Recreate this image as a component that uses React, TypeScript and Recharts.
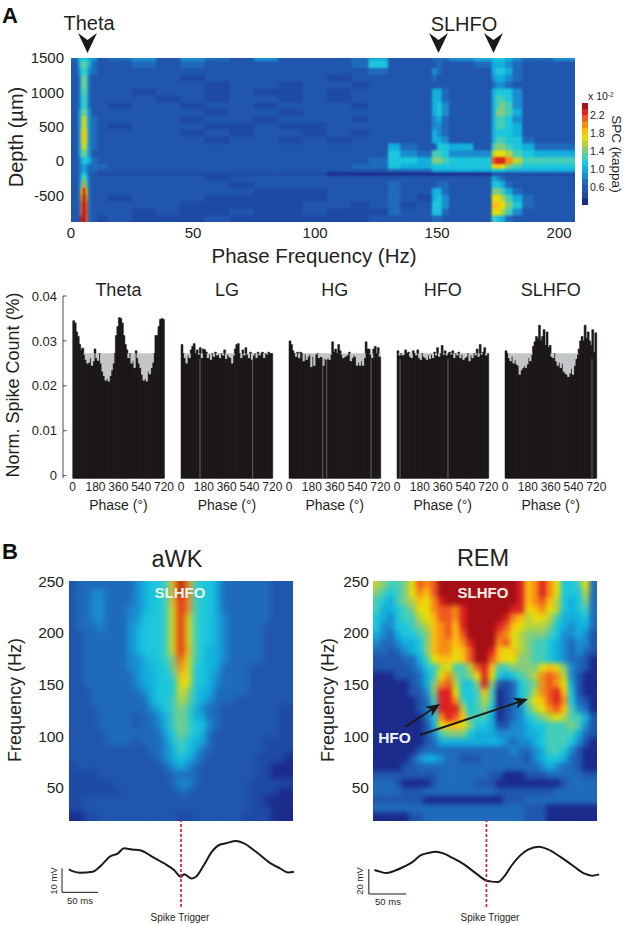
import {
  Bar,
  BarChart,
  Line,
  LineChart,
  ReferenceLine,
  Scatter,
  ScatterChart,
  XAxis,
  YAxis,
} from "recharts";

const FONT = '"Liberation Sans", Arial, sans-serif';
const NARROW = '"Liberation Sans Narrow", "Liberation Sans", Arial, sans-serif';
const INK = "#231f20";

// colour levels of the heat maps, index = hex digit in the rows below
const jet = [
  "#1b2b8c", "#1e4aa5", "#2056ad", "#1f6abb",
  "#1a8ccf", "#12afdc", "#1cc6dc", "#46cdb8",
  "#84cc7c", "#b6d33e", "#e6de0a", "#fbbf10",
  "#f68e14", "#ee5a20", "#dd2022", "#a50f15",
];

// Panel A: phase frequency (Hz) bin edges and depth (um) bin edges
const spcFreqEdges = [
  0, 3, 4, 5, 6, 7, 8.5, 11, 15, 25, 35, 45, 55, 65, 75, 85, 95, 105, 115, 122,
  130, 135, 142, 148, 150, 152, 155, 165, 172.5, 174, 176, 178, 181, 185, 190, 198, 206.5,
];
const spcDepthEdges = [
  1500, 1450, 1350, 1250, 1150, 1050, 950, 850, 750, 650, 550, 450, 350, 250, 150, 50,
  -50, -120, -170, -220, -300, -400, -500, -600, -700, -800, -890,
];
const spcRows = [
  "356665423424324222352223334566654334",
  "257875322323222222362222322355543222",
  "246764322222222222232224322256653222",
  "237873222221222221222223222245543222",
  "237873222222122122122222222234432222",
  "237773222122121121222225532256664222",
  "236763222212122121222225532257764222",
  "236763221221221222122225642257874222",
  "247874222222122122222225642258875222",
  "248a84322221221222122224532257764222",
  "248a84321222112112222224432257765222",
  "249b94322221212212122225432256665222",
  "249b94322222122121222225542257766322",
  "248a84322222222222225322665278876533",
  "24787422222222222222643776449aa97655",
  "2356653222222222222366588766deec9777",
  "2345433322222222223365566666aba87666",
  "234543322222222222223335555566655555",
  "235652211111111110000000000011111111",
  "236863222222122222222222222254322222",
  "237c73222222212222223222332266532222",
  "23bfb3222222221112223225532288753222",
  "23cfc322122211111222 32156422aa975322".replace(" ", ""),
  "23dfd322222111112212 31266422bba86322".replace(" ", ""),
  "23dfd322212112112111 32266322aa974222".replace(" ", ""),
  "22efd3212111211111122223322276532222",
];
const spcTicksX = [0, 50, 100, 150, 200];
const spcTicksY = [-500, 0, 500, 1000, 1500];

const scaleEdges = [2.47, 2.33, 2.19, 2.05, 1.9, 1.76, 1.62, 1.48, 1.34, 1.19, 1.05, 0.91, 0.77, 0.63, 0.48, 0.34, 0.2];
const scaleRows = "fedcba9876543210".split("");
const scaleTicks = [0.6, 1.0, 1.4, 1.8, 2.2];

// Panel A histograms: 12 degree bins over 720 degrees, counts in 1e-4 %
const thetaHist = [
  345, 340, 320, 310, 292, 280, 284, 270, 258, 250, 252, 262, 245, 255, 282, 262, 256, 272, 250, 232,
  222, 212, 216, 210, 222, 235, 250, 272, 312, 332, 352, 350, 340, 312, 292, 280, 262, 272, 250, 256,
  240, 278, 262, 250, 240, 225, 212, 216, 210, 232, 226, 240, 252, 272, 312, 312, 332, 348, 350, 348,
];
const lgHist = [
  292, 272, 262, 250, 268, 262, 280, 288, 294, 272, 280, 270, 285, 262, 282, 280, 275, 262, 270, 258,
  272, 265, 275, 268, 270, 262, 272, 268, 280, 260, 270, 265, 262, 250, 268, 282, 292, 294, 272, 262,
  280, 268, 285, 270, 262, 275, 258, 268, 272, 262, 275, 268, 272, 275, 262, 272, 270, 275, 272, 272,
];
const hgHist = [
  300, 292, 278, 272, 265, 275, 262, 275, 272, 255, 270, 258, 265, 270, 242, 265, 245, 270, 272, 262,
  265, 264, 245, 260, 258, 262, 258, 270, 298, 275, 282, 272, 292, 278, 270, 262, 265, 266, 270, 275,
  255, 262, 268, 265, 245, 252, 245, 255, 245, 262, 298, 282, 282, 270, 262, 282, 288, 272, 285, 265,
];
const hfoHist = [
  278, 268, 272, 268, 270, 280, 272, 275, 265, 262, 278, 272, 268, 280, 262, 258, 272, 265, 262, 258,
  268, 260, 270, 262, 275, 268, 285, 265, 272, 290, 270, 278, 268, 272, 275, 270, 278, 262, 272, 268,
  275, 262, 270, 258, 262, 265, 272, 255, 268, 262, 272, 268, 282, 265, 292, 270, 275, 285, 268, 272,
];
const slhfoHist = [
  278, 272, 262, 255, 266, 250, 258, 248, 245, 225, 235, 240, 245, 240, 248, 262, 255, 270, 288, 298,
  310, 305, 335, 300, 310, 325, 290, 320, 285, 290, 265, 262, 272, 255, 245, 252, 240, 250, 232, 228,
  225, 220, 228, 238, 225, 245, 260, 270, 282, 300, 310, 300, 335, 305, 320, 300, 290, 325, 275, 318,
];
const histMean = 272;
const phaseTicks = [0, 180, 360, 540, 720];
const countTicks = [0, 0.01, 0.02, 0.03, 0.04];

// Panel B: time (ms) and frequency (Hz) bin edges
const timeEdges = [
  -155, -145, -135, -125, -115, -105, -95, -85, -75, -65, -55, -45, -35, -25, -15, -5,
  5, 15, 25, 35, 45, 55, 65, 75, 85, 95, 105, 115, 125, 135, 145, 155,
];
const freqEdges = [
  250, 242, 234, 226, 218, 210, 202, 194, 186, 178, 170, 162, 154, 146, 138, 130,
  122, 114, 106, 98, 90, 82, 74, 66, 58, 50, 42, 34, 26, 18,
];
const freqTicks = [50, 100, 150, 200, 250];
const awkRows = [
  "23333333345667bfc76653333333222",
  "23344333345667bfc76653333333222",
  "23344333345667bec76653333333222",
  "23344333445667aec76653333333222",
  "23344333446667aea76654333333222",
  "23334333456667aea76654333332222",
  "22333333456667aea76654333332222",
  "22333333456667aea76654333332222",
  "22333333456667aeb76554333332222",
  "223333334456678da76554333332222",
  "223333334455668ca66553333222222",
  "223333333455667ba66543333222222",
  "223333333455666aa66543333222222",
  "222333333345666a865533333222222",
  "2223333333356679865433322222222",
  "2222333333345678754332222222211",
  "2222333332334578755332222222211",
  "2222333332334578766432222222211",
  "2222233333333568765322222222211",
  "2222233332333467655322222221111",
  "2222222222233457653322222221111",
  "2222222222223456543222222211110",
  "1222222222222345432222222211000",
  "1111222222222233332222222211000",
  "1111112222222234432222222111111",
  "1111111222222223322222222111100",
  "1122222222222222222222222110000",
  "1122222222222222222222222111000",
  "0011222222222221122222221111000",
];
const remRows = [
  "98778adcdfffffffffffebceca667a3",
  "87678acbdfffffffffffebceca66693",
  "765789baceffffffffffebcdb965683",
  "755678aacddceffffffeeabca965673",
  "6546779abddcefffffecb9aa9755563",
  "64466789bcdbeffffedba9998654553",
  "54356678bcdbdffffdca98887644542",
  "43345568bccbcefffcda98776543442",
  "33234568bccabdffebab98776543432",
  "22223357abbabdffdbaa88776543320",
  "2222234679a779deb778888aba84320",
  "000222357ac878aea656789cdc94200",
  "000002358cd9668e8213678cdca5200",
  "000002248eea667b7013679cdeb6200",
  "000000237eec7679701358abdec6320",
  "000000236eee96786013479acdb7430",
  "000000036cedb777501346789a97752",
  "000000025abba866522445667778742",
  "0000000247888655544445567777532",
  "0000000235555555554344567776420",
  "0000002333333333333433457764200",
  "0000024554332223333332456653200",
  "0000223333333333333333345433200",
  "2222222223333333220002223333322",
  "3332000023333322200000000023333",
  "3333222333333333322222222333333",
  "2222222000000000002223333333333",
  "3333333333333333333332220000000",
  "0000022333333333333332220000000",
];

// Spike triggered LFP: time (ms) and amplitude (mV)
const awkTraceT = [
  -155.8, -148.6, -140.3, -122.5, -112.5, -98.6, -87.5, -79.2, -68, -56.9, -40.3, -23.6, -9.7, -0.3,
  4.2, 14.2, 20.8, 31.9, 43, 53, 62.5, 76.4, 87.5, 104.2, 126.4, 137.5, 148.6, 156.9,
];
const awkTraceV = [
  9.6, 8.6, 8.2, 8.6, 10.7, 14.9, 16.25, 18.3, 17.8, 17.5, 14.9, 12.1, 9.3, 6.5,
  7.5, 5.8, 6.5, 11.4, 16.9, 19.7, 20.4, 21.4, 20.4, 16.9, 11.7, 10, 8.3, 8.6,
];
const remTraceT = [
  -149.3, -141.9, -133.9, -123.2, -109.9, -99.2, -88.5, -77.9, -67.2, -56.5, -45.9, -29.9, -13.9, 0,
  4.8, 15.5, 23.5, 34.1, 44.8, 55.5, 69.9, 82.1, 98.1, 114.1, 130.1, 140.8, 150.4,
];
const remTraceV = [
  19.2, 17.9, 16.8, 18.4, 21.9, 25.3, 30.7, 32.8, 33.9, 32.3, 29.1, 23.7, 16.5, 10.7,
  10.1, 9.6, 13.9, 23.2, 30.7, 35.5, 37.9, 35.7, 29.9, 23.2, 16.5, 14.7, 15.7,
];

function HeatLayer({ left, top, width, height, xEdges, yEdges, rows, blur }: any) {
  const pad = 10;
  const xMin = xEdges[0];
  const xMax = xEdges[xEdges.length - 1];
  const yMax = yEdges[0];
  const yMin = yEdges[yEdges.length - 1];
  const pxX = width / (xMax - xMin);
  const pxY = height / (yMax - yMin);
  const padX = pad / pxX;
  const padY = pad / pxY;
  const cells: any[] = [];
  rows.forEach((row: string, r: number) => {
    row.split("").forEach((digit, c) => {
      if (c >= xEdges.length - 1 || r >= yEdges.length - 1) return;
      // outer cells run past the clip box so the blur does not fade at the border
      const x0 = c === 0 ? xEdges[c] - padX : xEdges[c];
      const x1 = c === xEdges.length - 2 ? xEdges[c + 1] + padX : xEdges[c + 1];
      const y0 = r === 0 ? yEdges[r] + padY : yEdges[r];
      const y1 = r === yEdges.length - 2 ? yEdges[r + 1] - padY : yEdges[r + 1];
      cells.push({ x: (x0 + x1) / 2, y: (y0 + y1) / 2, w: x1 - x0, h: y0 - y1, level: parseInt(digit, 16) });
    });
  });
  return (
    <div style={{ position: "absolute", left, top, width, height, overflow: "hidden" }}>
      <div style={{ position: "absolute", left: -pad, top: -pad, filter: `blur(${blur}px)` }}>
        <ScatterChart
          width={width + pad * 2}
          height={height + pad * 2}
          margin={{ top: 0, right: 0, bottom: 0, left: 0 }}
        >
          <XAxis type="number" dataKey="x" hide domain={[xMin - padX, xMax + padX]} />
          <YAxis type="number" dataKey="y" hide domain={[yMin - padY, yMax + padY]} />
          <Scatter
            data={cells}
            isAnimationActive={false}
            shape={(p: any) => {
              const w = p.payload.w * pxX + 0.7;
              const h = p.payload.h * pxY + 0.7;
              return <rect x={p.cx - w / 2} y={p.cy - h / 2} width={w} height={h} fill={jet[p.payload.level]} />;
            }}
          />
        </ScatterChart>
      </div>
    </div>
  );
}

// axes only, sits on top of a HeatLayer with the same box and domains
function AxisFrame({ left, top, width, height, xDomain, yDomain, xTicks, yTicks, fontSize, gutter, margin, right }: any) {
  const tickStyle = { fontSize, fill: INK, fontFamily: FONT };
  const bottomRoom = 26;
  const topRoom = 10;
  const rightRoom = right ? gutter : 14;
  const leftRoom = right ? 4 : gutter;
  const corners = [
    { x: xDomain[0], y: yDomain[0] },
    { x: xDomain[1], y: yDomain[1] },
  ];
  return (
    <div style={{ position: "absolute", left: left - leftRoom, top: top - topRoom }}>
      <ScatterChart
        width={leftRoom + width + rightRoom}
        height={topRoom + height + bottomRoom}
        margin={{ top: topRoom, right: right ? 0 : rightRoom, bottom: 0, left: right ? leftRoom : 0 }}
      >
        <XAxis
          type="number"
          dataKey="x"
          domain={xDomain}
          ticks={xTicks ?? []}
          height={bottomRoom}
          interval={0}
          axisLine={false}
          tickLine={false}
          tickSize={0}
          tickMargin={5}
          tick={xTicks ? tickStyle : false}
        />
        <YAxis
          type="number"
          dataKey="y"
          orientation={right ? "right" : "left"}
          domain={yDomain}
          ticks={yTicks}
          width={gutter}
          interval={0}
          axisLine={false}
          tickLine={false}
          tickSize={0}
          tickMargin={margin}
          tick={tickStyle}
          tickFormatter={(v: number) => (right ? v.toFixed(1) : `${v}`)}
        />
        <Scatter data={corners} isAnimationActive={false} shape={() => <g />} />
      </ScatterChart>
    </div>
  );
}

function HistYTick({ x, y, payload }: any) {
  const axisX = x + 6;
  return (
    <g>
      <line x1={axisX} x2={axisX + 3.5} y1={y} y2={y} stroke={INK} strokeWidth={0.8} />
      <text x={x} y={y} dy="0.36em" textAnchor="end" fontSize={13} fill={INK} fontFamily={FONT}>
        {payload.value === 0 ? "0" : payload.value.toFixed(2)}
      </text>
    </g>
  );
}

function HistPanel({ plotLeft, counts, seams, withAxis }: any) {
  const plotWidth = 91.3;
  const plotTop = 295.7;
  const plotHeight = 182.3;
  const mean = histMean / 10000;
  const rows = counts.map((c: number, i: number) => ({
    phase: (i + 0.5) * 12,
    count: c / 10000,
    gap: Math.max(0, mean - c / 10000),
    floor: -0.0006,
  }));
  const leftRoom = withAxis ? 63 : 8;
  const extraDeg = withAxis ? ((plotLeft - leftRoom) / plotWidth) * 720 : 0;
  const boxWidth = withAxis ? plotLeft + plotWidth + 16 : leftRoom + plotWidth + 16;
  return (
    <div style={{ position: "absolute", left: withAxis ? 0 : plotLeft - leftRoom, top: plotTop - 10 }}>
      <BarChart
        width={boxWidth}
        height={plotHeight + 10 + 24}
        data={rows}
        stackOffset="sign"
        barCategoryGap={0}
        barGap={0}
        margin={{ top: 10, right: 16, bottom: 0, left: withAxis ? 0 : leftRoom }}
      >
        <XAxis
          type="number"
          dataKey="phase"
          domain={[extraDeg ? -extraDeg : 0, 720]}
          ticks={phaseTicks}
          interval={0}
          height={24}
          axisLine={false}
          tickLine={false}
          tickSize={0}
          tickMargin={4}
          tick={{ fontSize: 12, fill: INK, fontFamily: NARROW }}
        />
        <YAxis
          hide={!withAxis}
          type="number"
          domain={[-0.0006, 0.04]}
          ticks={countTicks}
          width={withAxis ? 63 : 0}
          interval={0}
          axisLine={{ stroke: INK, strokeWidth: 0.8 }}
          tickLine={false}
          tickSize={0}
          tickMargin={6}
          tick={<HistYTick />}
        />
        <Bar dataKey="count" stackId="h" fill="#1c1819" stroke="#1c1819" strokeWidth={0.5} isAnimationActive={false} />
        <Bar dataKey="gap" stackId="h" fill="#c4c6c8" stroke="#c4c6c8" strokeWidth={0.2} isAnimationActive={false} />
        <Bar dataKey="floor" stackId="h" fill="#1c1819" stroke="#1c1819" strokeWidth={0.5} isAnimationActive={false} />
        {seams.map((s: number) => (
          <ReferenceLine
            key={s}
            segment={[{ x: s, y: -0.0006 }, { x: s, y: 0.026 }]}
            stroke="#77797b"
            strokeWidth={0.8}
          />
        ))}
      </BarChart>
    </div>
  );
}

function TracePanel({ left, width, domain, times, values, yDomain, barT, barMv }: any) {
  const rows = times.map((t: number, i: number) => ({ t, v: values[i] }));
  return (
    <div style={{ position: "absolute", left, top: 820 }}>
      <LineChart width={width} height={87} data={rows} margin={{ top: 0, right: 0, bottom: 0, left: 0 }}>
        <XAxis type="number" dataKey="t" domain={domain} hide />
        <YAxis type="number" domain={yDomain} hide />
        <Line
          dataKey="v"
          type="monotone"
          stroke="#1a1a1a"
          strokeWidth={2}
          dot={false}
          isAnimationActive={false}
        />
        <ReferenceLine x={0} stroke="#d2232f" strokeWidth={1.7} strokeDasharray="3 2" />
        <ReferenceLine segment={[{ x: barT, y: 0 }, { x: barT, y: barMv }]} stroke="#1a1a1a" strokeWidth={1} />
        <ReferenceLine segment={[{ x: barT, y: 0 }, { x: barT + 50, y: 0 }]} stroke="#1a1a1a" strokeWidth={1} />
      </LineChart>
    </div>
  );
}

function Arrowhead({ x1, y1, x2, y2, color = "#1a1a1a" }: any) {
  const a = Math.atan2(y2 - y1, x2 - x1);
  const len = 14;
  const half = 6;
  const ux = Math.cos(a);
  const uy = Math.sin(a);
  const bx = x2 - ux * len;
  const by = y2 - uy * len;
  const nx = x2 - ux * (len - 4);
  const ny = y2 - uy * (len - 4);
  return (
    <g>
      <line x1={x1} y1={y1} x2={nx} y2={ny} stroke={color} strokeWidth={2} />
      <polygon
        fill={color}
        points={`${x2},${y2} ${bx - uy * half},${by + ux * half} ${nx},${ny} ${bx + uy * half},${by - ux * half}`}
      />
    </g>
  );
}

function Label({ x, y, size, rotate, weight, fill = INK, family = FONT, anchor = "middle", children }: any) {
  return (
    <text
      x={x}
      y={y}
      dy="0.36em"
      fontSize={size}
      fontWeight={weight}
      fill={fill}
      fontFamily={family}
      textAnchor={anchor}
      transform={rotate ? `rotate(${rotate} ${x} ${y})` : undefined}
    >
      {children}
    </text>
  );
}

const chevrons = [87.5, 438.5, 493.5];
const histPanels = [
  { title: "Theta", plotLeft: 72.7, counts: thetaHist, seams: [] as number[] },
  { title: "LG", plotLeft: 181.3, counts: lgHist, seams: [150, 565] },
  { title: "HG", plotLeft: 289, counts: hgHist, seams: [266, 297, 647] },
  { title: "HFO", plotLeft: 397, counts: hfoHist, seams: [24, 402] },
  { title: "SLHFO", plotLeft: 505, counts: slhfoHist, seams: [686] },
];

export default function App() {
  return (
    <div style={{ position: "absolute", left: 0, top: 0, width: 625, height: 925, background: "#fff", overflow: "hidden" }}>
      <HeatLayer left={71} top={58} width={504} height={164} xEdges={spcFreqEdges} yEdges={spcDepthEdges} rows={spcRows} blur={1.1} />
      <AxisFrame
        left={71}
        top={58}
        width={504}
        height={164}
        xDomain={[0, 206.5]}
        yDomain={[-890, 1500]}
        xTicks={spcTicksX}
        yTicks={spcTicksY}
        fontSize={15}
        gutter={50}
        margin={7}
      />

      <HeatLayer left={582} top={103} width={6} height={102} xEdges={[0, 1]} yEdges={scaleEdges} rows={scaleRows} blur={0.4} />
      <AxisFrame
        left={582}
        top={103}
        width={6}
        height={102}
        xDomain={[0, 1]}
        yDomain={[0.2, 2.47]}
        yTicks={scaleTicks}
        fontSize={10.5}
        gutter={22}
        margin={2}
        right
      />

      {histPanels.map((p, i) => (
        <HistPanel key={p.title} plotLeft={p.plotLeft} counts={p.counts} seams={p.seams} withAxis={i === 0} />
      ))}

      <HeatLayer left={69} top={581} width={224} height={240} xEdges={timeEdges} yEdges={freqEdges} rows={awkRows} blur={3.5} />
      <AxisFrame
        left={69}
        top={581}
        width={224}
        height={240}
        xDomain={[-155, 155]}
        yDomain={[18, 250]}
        yTicks={freqTicks}
        fontSize={15.5}
        gutter={40}
        margin={5}
      />

      <HeatLayer left={373} top={581} width={224} height={240} xEdges={timeEdges} yEdges={freqEdges} rows={remRows} blur={2.8} />
      <AxisFrame
        left={373}
        top={581}
        width={224}
        height={240}
        xDomain={[-155, 155]}
        yDomain={[18, 250]}
        yTicks={freqTicks}
        fontSize={15.5}
        gutter={40}
        margin={4}
      />

      <TracePanel left={60} width={240} domain={[-168.1, 165.3]} times={awkTraceT} values={awkTraceV} yDomain={[-6.1, 30.1]} barT={-165.3} barMv={10} />
      <TracePanel left={365} width={240} domain={[-161.9, 158.1]} times={remTraceT} values={remTraceV} yDomain={[-10.4, 59.2]} barT={-156.8} barMv={20} />

      <svg width={625} height={925} style={{ position: "absolute", left: 0, top: 0, pointerEvents: "none" }}>
        <Label x={10} y={15} size={22} weight="bold" fill="#111">A</Label>
        <Label x={10} y={551} size={22} weight="bold" fill="#111">B</Label>

        <Label x={89} y={23} size={20}>Theta</Label>
        <Label x={464} y={24} size={20}>SLHFO</Label>
        {chevrons.map((x) => (
          <polygon key={x} fill="#1a1a1a" points={`${x - 9.5},33 ${x},40 ${x + 9.5},33 ${x},53`} />
        ))}
        <Label x={16} y={137} size={20} rotate={-90}>Depth (µm)</Label>
        <Label x={314} y={256} size={20.5}>Phase Frequency (Hz)</Label>

        <text x={588} y={100} fontSize={10.5} fill={INK} fontFamily={FONT}>
          x 10<tspan dy={-3.5} fontSize={6.5}>-2</tspan>
        </text>
        <Label x={617} y={154} size={13.5} rotate={90}>SPC (kappa)</Label>

        <Label x={13} y={385} size={18} rotate={-90}>Norm. Spike Count (%)</Label>
        {histPanels.map((p) => (
          <g key={p.title}>
            <Label x={p.plotLeft + 45.7} y={290} size={18}>{p.title}</Label>
            <Label x={p.plotLeft + 45.7} y={505} size={14}>Phase (°)</Label>
          </g>
        ))}

        <Label x={177} y={559} size={23.5}>aWK</Label>
        <Label x={483} y={558} size={23.5}>REM</Label>
        <Label x={15} y={700} size={18} rotate={-90}>Frequency (Hz)</Label>
        <Label x={328} y={700} size={18} rotate={-90}>Frequency (Hz)</Label>

        <Label x={180} y={593} size={15} weight="bold" fill="#e9f5ea">SLHFO</Label>
        <Label x={483} y={593} size={15} weight="bold" fill="#f6f0ea">SLHFO</Label>
        <Label x={394.5} y={737} size={15.5} weight="bold" fill="#f2f4fa">HFO</Label>
        <Arrowhead x1={405} y1={727} x2={440} y2={704} />
        <Arrowhead x1={420} y1={735} x2={528} y2={699} />

        <Label x={54} y={881} size={9.5} rotate={-90}>10 mV</Label>
        <Label x={80} y={901} size={9.5}>50 ms</Label>
        <Label x={180} y={917} size={10}>Spike Trigger</Label>
        <Label x={360} y={881} size={9.5} rotate={-90}>20 mV</Label>
        <Label x={388} y={902} size={9.5}>50 ms</Label>
        <Label x={490} y={917} size={10}>Spike Trigger</Label>
      </svg>
    </div>
  );
}
